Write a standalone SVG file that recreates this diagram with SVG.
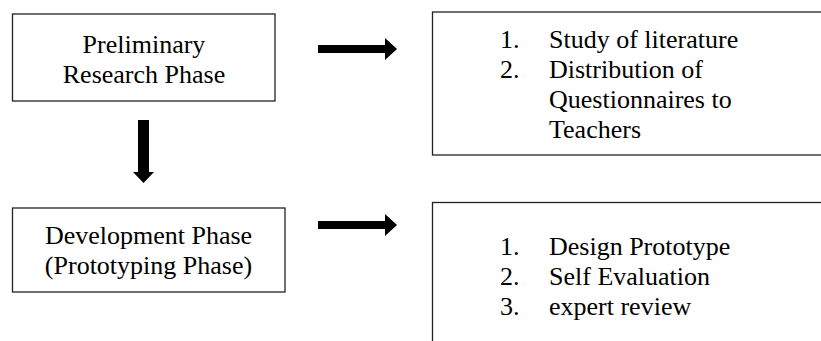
<svg xmlns="http://www.w3.org/2000/svg" width="821" height="341" viewBox="0 0 821 341">
<style>
.box{fill:#fff;stroke:#222;stroke-width:1.3}
text{font-family:'Liberation Serif',serif;font-size:26px;fill:#000}
.c{text-anchor:middle}
.arr{fill:#000}
</style>
<rect width="821" height="341" fill="#fff"/>
<g id="preliminary">
<rect class="box" x="12.5" y="14" width="262.5" height="87"/>
<text class="c" x="144" y="53" font-family="Liberation Serif, serif">Preliminary</text>
<text class="c" x="144" y="83" font-family="Liberation Serif, serif">Research Phase</text>
</g>
<g id="development">
<rect class="box" x="12.5" y="208" width="272.5" height="84"/>
<text class="c" x="148.5" y="244" font-family="Liberation Serif, serif">Development Phase</text>
<text class="c" x="148.5" y="274" font-family="Liberation Serif, serif">(Prototyping Phase)</text>
</g>
<g id="research-tasks">
<rect class="box" x="432.5" y="12" width="400" height="143"/>
<text x="500" y="48" font-family="Liberation Serif, serif">1.</text><text x="549" y="48" font-family="Liberation Serif, serif">Study of literature</text>
<text x="500" y="78" font-family="Liberation Serif, serif">2.</text><text x="549" y="78" font-family="Liberation Serif, serif">Distribution of</text>
<text x="549" y="108" font-family="Liberation Serif, serif">Questionnaires to</text>
<text x="549" y="138" font-family="Liberation Serif, serif">Teachers</text>
</g>
<g id="development-tasks">
<rect class="box" x="432.5" y="202.5" width="400" height="160"/>
<text x="500" y="255" font-family="Liberation Serif, serif">1.</text><text x="549" y="255" font-family="Liberation Serif, serif">Design Prototype</text>
<text x="500" y="285" font-family="Liberation Serif, serif">2.</text><text x="549" y="285" font-family="Liberation Serif, serif">Self Evaluation</text>
<text x="500" y="315" font-family="Liberation Serif, serif">3.</text><text x="549" y="315" font-family="Liberation Serif, serif">expert review</text>
</g>
<g id="connectors">
<polygon class="arr" points="318,45 385,45 385,38 397,49 385,60 385,53 318,53"/>
<polygon class="arr" points="318,221 385,221 385,214 397,225 385,236 385,229 318,229"/>
<polygon class="arr" points="138,120 149,120 149,172 154,172 143.5,183 133,172 138,172"/>
</g>
</svg>
